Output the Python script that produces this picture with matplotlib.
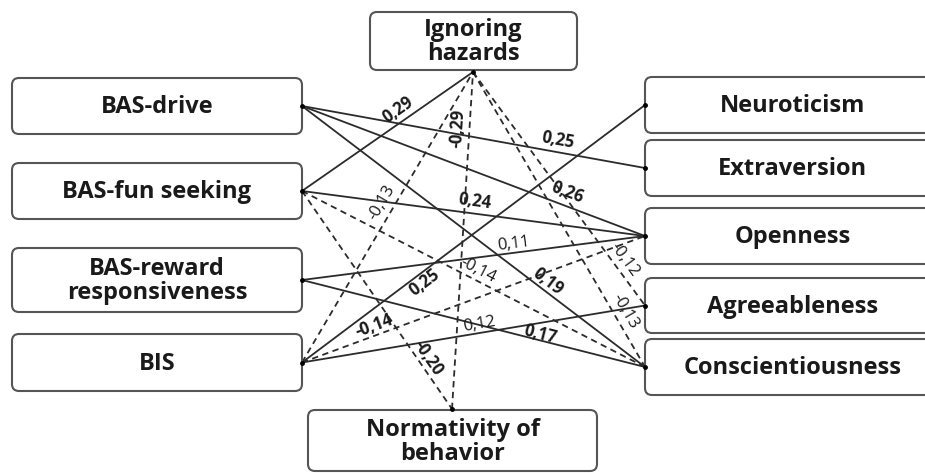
import math
import matplotlib
matplotlib.use("Agg")
import matplotlib.pyplot as plt
from matplotlib.patches import FancyBboxPatch

# nodes of the path model
predictors = ["BAS-drive", "BAS-fun seeking", "BAS-reward\nresponsiveness", "BIS"]
traits = ["Neuroticism", "Extraversion", "Openness", "Agreeableness", "Conscientiousness"]
mediators = ["Ignoring\nhazards", "Normativity of\nbehavior"]

# paths: source, target, standardized coefficient, bold label
sources = ["Ignoring\nhazards", "BAS-drive", "BAS-drive", "BAS-drive",
           "BAS-fun seeking", "BAS-fun seeking", "BAS-fun seeking",
           "BIS", "Normativity of\nbehavior",
           "BAS-reward\nresponsiveness", "BAS-reward\nresponsiveness",
           "BIS", "BIS", "BIS",
           "Ignoring\nhazards", "Ignoring\nhazards"]
targets = ["BAS-fun seeking", "Extraversion", "Openness", "Conscientiousness",
           "Openness", "Conscientiousness", "Normativity of\nbehavior",
           "Ignoring\nhazards", "Ignoring\nhazards",
           "Openness", "Conscientiousness",
           "Neuroticism", "Openness", "Agreeableness",
           "Agreeableness", "Conscientiousness"]
coefs = [0.29, 0.25, 0.26, 0.19,
         0.24, -0.14, -0.20,
         -0.13, -0.29,
         0.11, 0.17,
         0.25, -0.14, 0.12,
         -0.12, -0.13]
strong = [True, True, True, True,
          True, False, True,
          False, True,
          False, True,
          True, True, False,
          False, False]

# layout (pixel coordinates, y downwards)
boxes = {}
for name, (y0, y1) in zip(predictors, [(78, 134), (163, 219), (248, 312), (334, 391)]):
    boxes[name] = (12, y0, 302, y1)
for name, (y0, y1) in zip(traits, [(77, 133), (140, 196), (208, 264), (278, 333), (339, 395)]):
    boxes[name] = (645, y0, 940, y1)
boxes["Ignoring\nhazards"] = (370, 12, 577, 70)
boxes["Normativity of\nbehavior"] = (308, 410, 597, 471)

anchors = {name: (302, (b[1] + b[3]) / 2) for name, b in boxes.items() if name in predictors}
anchors.update({name: (645, (b[1] + b[3]) / 2) for name, b in boxes.items() if name in traits})
anchors["Ignoring\nhazards"] = (473, 72)
anchors["Normativity of\nbehavior"] = (452, 409)

# label position along each path (fraction from left end, offset from line)
label_t = [0.60, 0.74, 0.76, 0.70, 0.50, 0.50, 0.79, 0.53, 0.83, 0.62, 0.69, 0.34, 0.22, 0.52, 0.83, 0.83]
label_d = [12, 12, 13, 9, 12, 10, 9, 12, 12, 9, 6, -10, 10, 9, 11, 11]

fig = plt.figure(figsize=(9.25, 4.73), dpi=100)
ax = fig.add_axes([0, 0, 1, 1])
ax.set_xlim(0, 925)
ax.set_ylim(473, 0)
ax.axis("off")

font = ["Open Sans", "DejaVu Sans"]
line_col = "#2b2b2b"

for src, dst, c, t, d, s in zip(sources, targets, coefs, label_t, label_d, strong):
    p1, p2 = anchors[src], anchors[dst]
    if p2[0] < p1[0]:
        p1, p2 = p2, p1
    ls = "-" if c > 0 else (0, (3.5, 2.5))
    ax.plot([p1[0], p2[0]], [p1[1], p2[1]], color=line_col, lw=1.3, ls=ls, zorder=1)
    ang = math.degrees(math.atan2(-(p2[1] - p1[1]), p2[0] - p1[0]))
    r = math.radians(ang)
    cx = p1[0] + t * (p2[0] - p1[0]) - d * math.sin(r)
    cy = p1[1] + t * (p2[1] - p1[1]) - d * math.cos(r)
    txt = f"{c:.2f}".replace(".", ",")
    ax.text(cx, cy, txt, rotation=ang, rotation_mode="anchor", ha="center", va="center",
            fontsize=12, fontweight="bold" if s else "normal", family=font,
            color="#1a1a1a", zorder=3)

for name, (x0, y0, x1, y1) in boxes.items():
    ax.add_patch(FancyBboxPatch((x0 + 7, y0 + 7), x1 - x0 - 14, y1 - y0 - 14,
                                boxstyle="round,pad=7", fc="white", ec="#555555",
                                lw=1.5, zorder=2))
    ax.text((x0 + x1) / 2, (y0 + y1) / 2 + 1, name, ha="center", va="center", fontsize=17,
            fontweight="bold", family=font, color="#1a1a1a", linespacing=1.0, zorder=4)

for p in anchors.values():
    ax.plot(p[0], p[1], "o", ms=2.5, color="black", zorder=3)

fig.savefig("out.png", dpi=100)
